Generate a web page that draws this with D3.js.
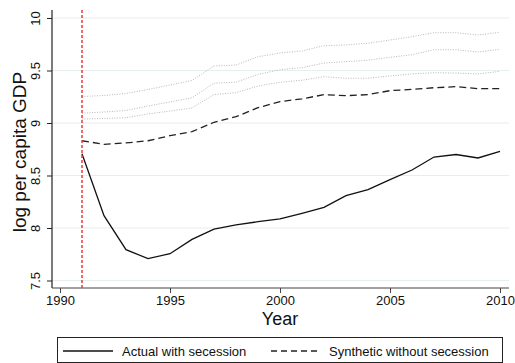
<!DOCTYPE html>
<html><head><meta charset="utf-8">
<script src="https://cdn.jsdelivr.net/npm/d3@7"></script>
<style>body{margin:0;background:#fff}svg{display:block;font-family:"Liberation Sans",Arial,sans-serif}</style>
</head><body><svg id="c" width="515" height="363"></svg>
<script>
const years = d3.range(1991, 2011);
const actual = [8.708,8.117,7.794,7.708,7.755,7.892,7.99,8.029,8.06,8.086,8.14,8.197,8.308,8.365,8.46,8.552,8.676,8.70,8.667,8.730];
const synthetic = [8.831,8.797,8.81,8.831,8.879,8.917,9.007,9.06,9.146,9.203,9.23,9.27,9.26,9.27,9.308,9.32,9.336,9.346,9.327,9.327];
const upper = [9.252,9.262,9.281,9.319,9.362,9.405,9.543,9.552,9.631,9.667,9.686,9.736,9.743,9.76,9.79,9.822,9.86,9.86,9.838,9.864];
const middle = [9.093,9.105,9.119,9.162,9.2,9.24,9.379,9.389,9.462,9.508,9.527,9.571,9.584,9.598,9.626,9.65,9.698,9.698,9.676,9.702];
const lower = [9.038,9.043,9.05,9.086,9.114,9.143,9.271,9.289,9.352,9.388,9.407,9.441,9.426,9.427,9.448,9.467,9.479,9.476,9.467,9.492];
const xTicks = [1990,1995,2000,2005,2010];
const yTicks = [7.5,8,8.5,9,9.5,10];
const treatYear = 1991;
const legendLabels = ["Actual with secession","Synthetic without secession"];

(function(){
const svg = d3.select("#c");
const x = d3.scaleLinear().domain([1990,2010]).range([60,500]);
const y = d3.scaleLinear().domain([7.5,10]).range([280.5,18]);
const pL = 52, pR = 509, pT = 10, pB = 288;

// grid
svg.append("g").selectAll("line").data(yTicks).join("line")
  .attr("x1", pL).attr("x2", pR)
  .attr("y1", d=>y(d)).attr("y2", d=>y(d))
  .attr("stroke","#e6eef0").attr("stroke-width",1.2);

// y axis
const ya = svg.append("g").attr("transform",`translate(${pL},0)`)
  .call(d3.axisLeft(y).tickValues(yTicks).tickSize(5).tickFormat(d3.format("~g")));
ya.select(".domain").remove();
ya.append("line").attr("x1",0).attr("x2",0).attr("y1",pT).attr("y2",pB).attr("stroke","#222").attr("stroke-width",1.2);
ya.selectAll(".tick line").attr("stroke","#222");
ya.selectAll(".tick text").attr("transform","rotate(-90)").attr("x",0).attr("y",-12.5)
  .attr("dy","0").attr("text-anchor","middle").attr("font-size",13).attr("fill","#111")
  .style("font-family","'Liberation Sans',Arial,sans-serif");

// x axis
const xa = svg.append("g").attr("transform",`translate(0,${pB})`)
  .call(d3.axisBottom(x).tickValues(xTicks).tickSize(5).tickFormat(d3.format("d")));
xa.select(".domain").remove();
xa.append("line").attr("x1",pL).attr("x2",pR).attr("y1",0).attr("y2",0).attr("stroke","#444").attr("stroke-width",1.2);
xa.selectAll(".tick line").attr("stroke","#444");
xa.selectAll(".tick text").attr("font-size",13).attr("fill","#111").attr("y",8)
  .style("font-family","'Liberation Sans',Arial,sans-serif");

// axis titles
svg.append("text").attr("x",280).attr("y",325).attr("text-anchor","middle")
  .attr("font-size",18).attr("fill","#111").text("Year");
svg.append("text").attr("transform",`translate(25.5,152) rotate(-90)`).attr("text-anchor","middle")
  .attr("font-size",19).attr("fill","#111").text("log per capita GDP");

const line = vals => d3.line().x((d,i)=>x(years[i])).y(d=>y(d))(vals);

[upper, middle, lower].forEach(v=>{
  svg.append("path").attr("d", line(v)).attr("fill","none")
    .attr("stroke","#b8b8b8").attr("stroke-width",1).attr("stroke-dasharray","1,1.5");
});
svg.append("path").attr("d", line(synthetic)).attr("fill","none")
  .attr("stroke","#222").attr("stroke-width",1.3).attr("stroke-dasharray","7,4");
svg.append("path").attr("d", line(actual)).attr("fill","none")
  .attr("stroke","#111").attr("stroke-width",1.3);

// treatment line
svg.append("line").attr("x1",x(treatYear)).attr("x2",x(treatYear)).attr("y1",pT).attr("y2",pB)
  .attr("stroke","#f03a3a").attr("stroke-width",1.5).attr("stroke-dasharray","3,2");

// legend
const lg = svg.append("g");
lg.append("rect").attr("x",57.5).attr("y",337.5).attr("width",445).attr("height",25)
  .attr("fill","#fff").attr("stroke","#222").attr("stroke-width",1);
lg.append("line").attr("x1",63).attr("x2",113).attr("y1",351).attr("y2",351).attr("stroke","#111").attr("stroke-width",1.3);
lg.append("text").attr("x",122).attr("y",355.5).attr("font-size",13).attr("fill","#111").text(legendLabels[0]);
lg.append("line").attr("x1",271).attr("x2",321).attr("y1",351).attr("y2",351).attr("stroke","#222").attr("stroke-width",1.3).attr("stroke-dasharray","6,4");
lg.append("text").attr("x",329).attr("y",355.5).attr("font-size",13).attr("fill","#111").text(legendLabels[1]);
})();
</script></body></html>
